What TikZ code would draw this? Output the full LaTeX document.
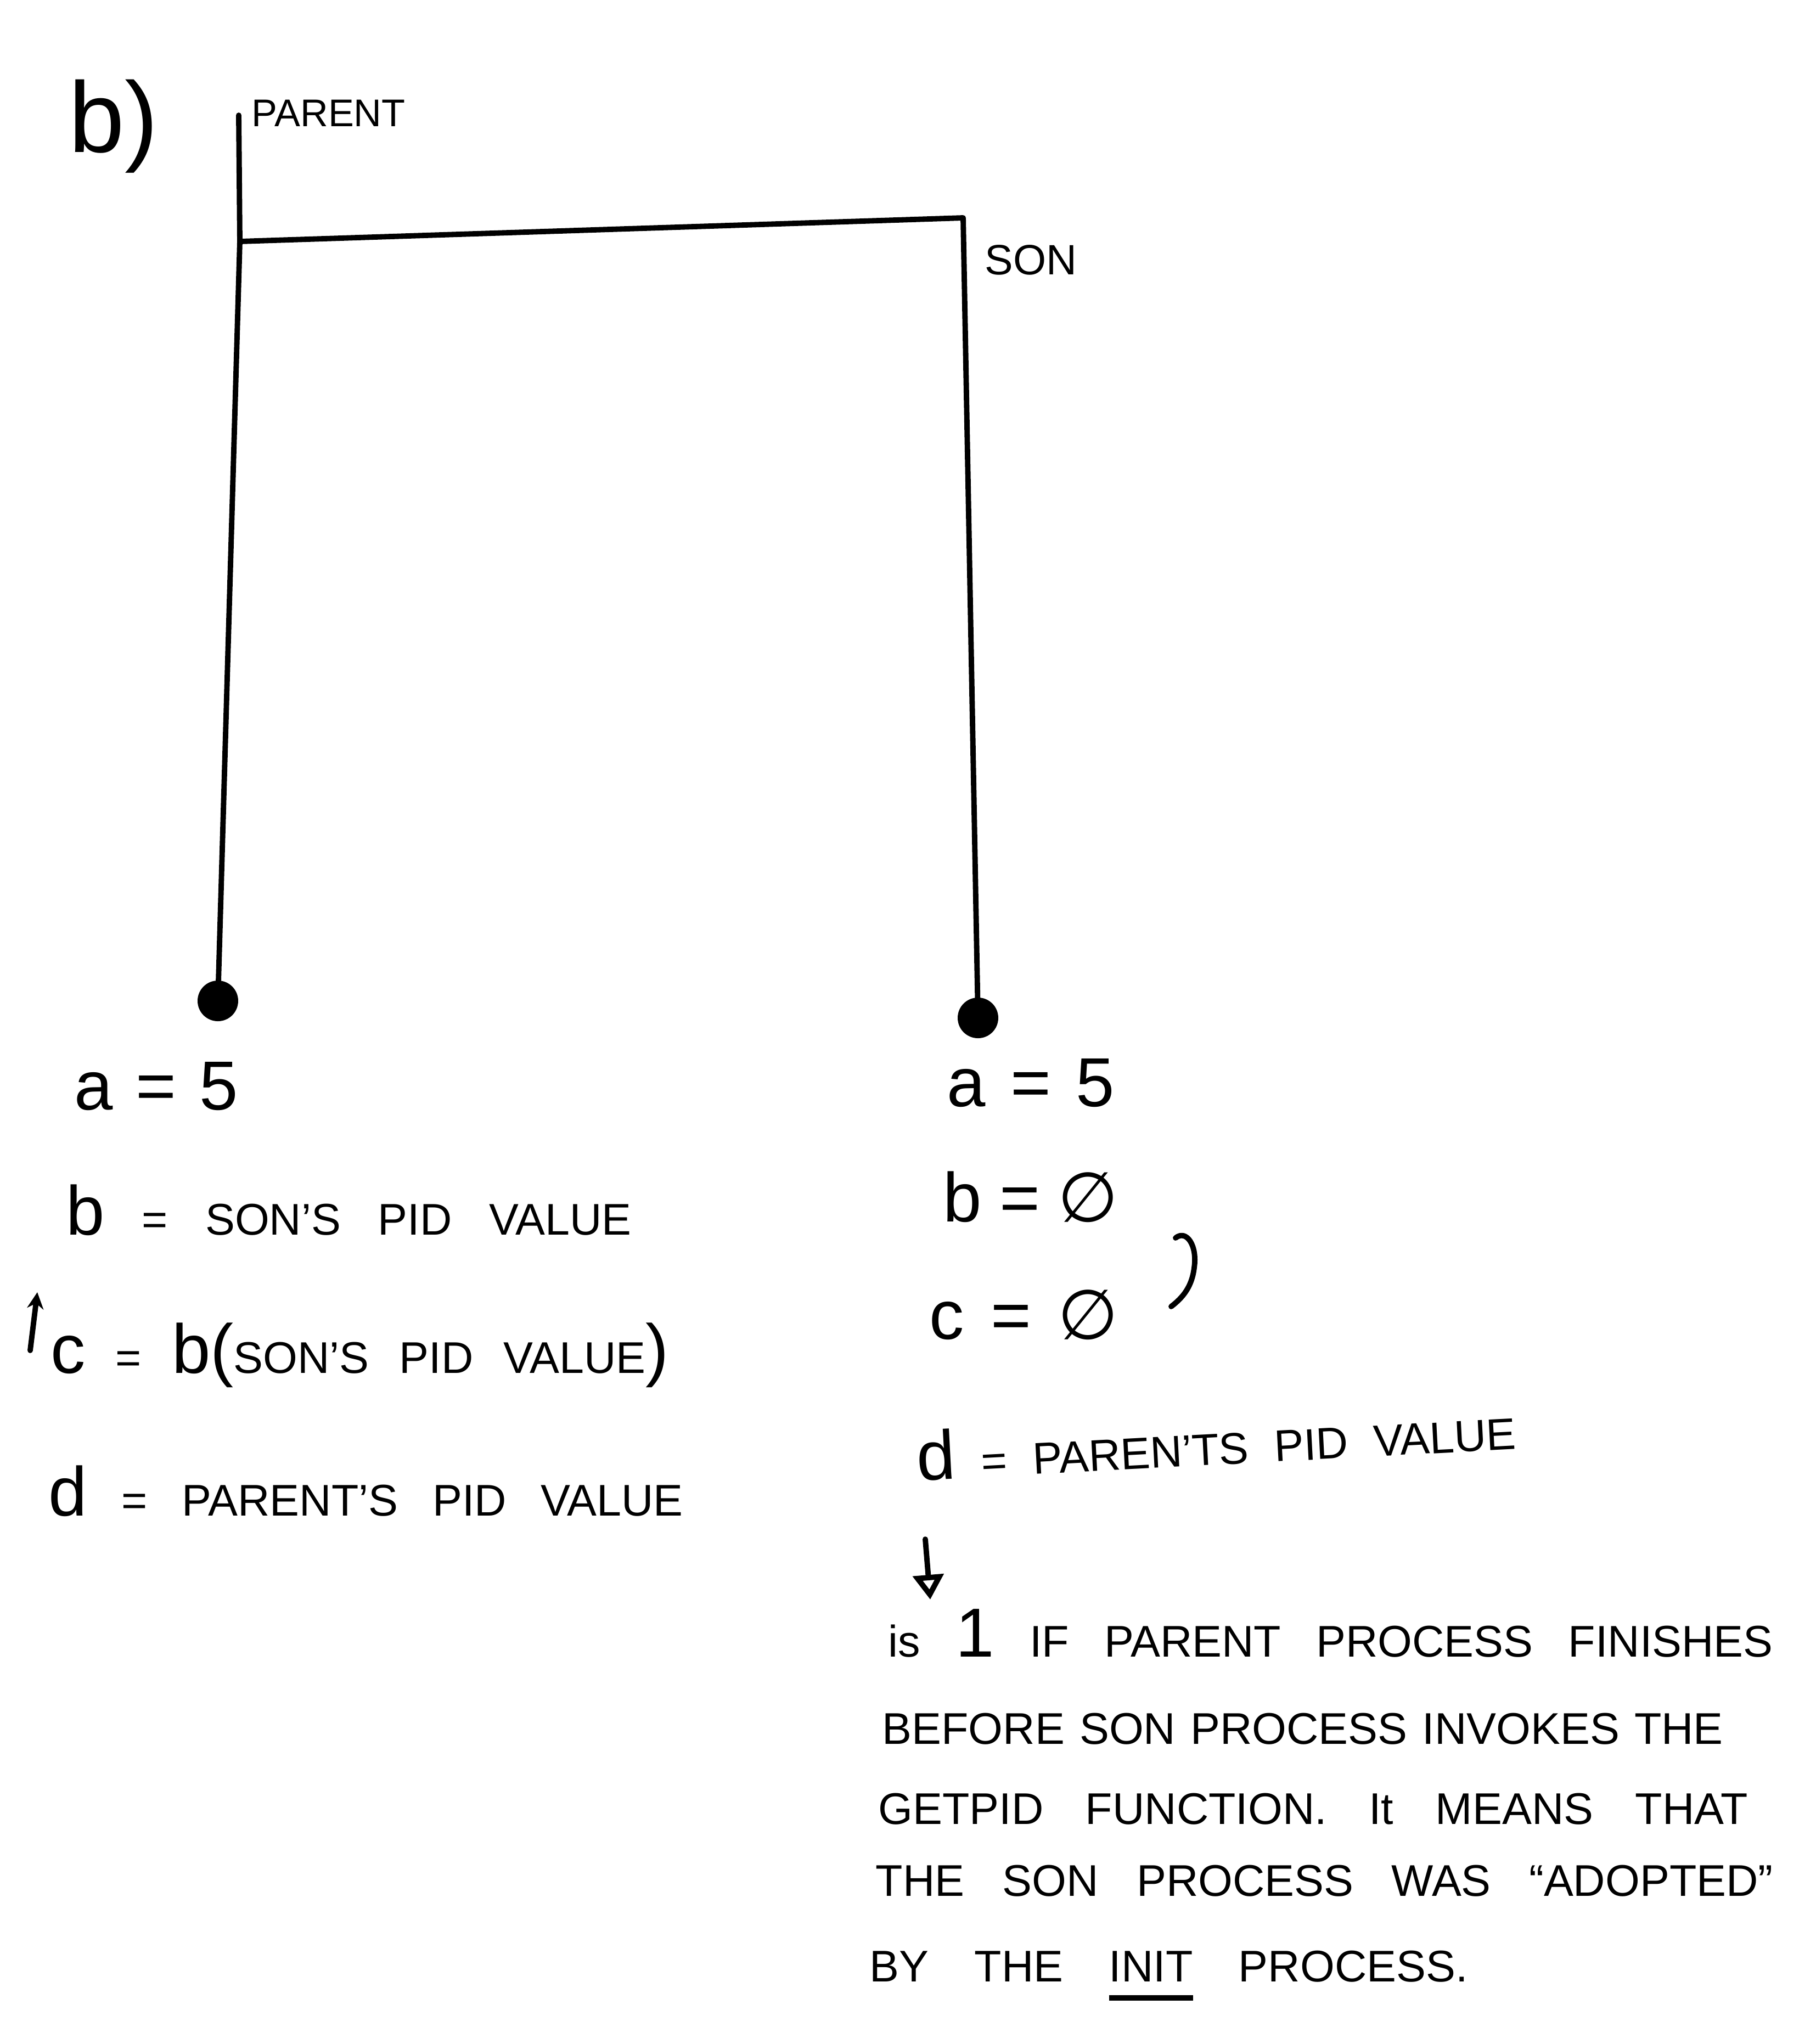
\documentclass[tikz,border=0pt]{standalone}
\usepackage{fontspec}
\setmainfont{Liberation Sans}
\newfontfamily\symfont{DejaVu Sans}
\usetikzlibrary{positioning, arrows.meta, calc}

\tikzset{
	hand/.style={line width=2.8pt, line cap=round, line join=round},
	proc/.style={circle, fill=black, inner sep=0pt, minimum size=0.74cm},
	lbl/.style={anchor=base west, inner sep=0pt, font=\fontsize{20}{20}\selectfont},
	eq/.style={anchor=base west, inner sep=0pt, font=\fontsize{23}{23}\selectfont}
}
\newcommand{\vn}[1]{{\fontsize{36}{36}\selectfont #1}}
\newcommand{\fitline}[2]{\makebox[#1][s]{#2}}
\newcommand{\initmark}[1]{\setbox0\hbox{#1}\rlap{\rule[-10pt]{\wd0}{3pt}}\box0\relax}

\begin{document}
\begin{tikzpicture}
	\useasboundingbox (0,0) rectangle (33.09,-37.25);
	
	\node [anchor=base west, inner sep=0pt, font=\fontsize{52}{52}\selectfont] (part) at (1.25,-2.77) {b)};
	
	% parent and son
	\coordinate (ptop) at (4.35,-2.10);
	\coordinate (pfork) at (4.37,-4.40);
	\node [proc] (pdot) at (3.97,-18.24) {};
	\coordinate (sfork) at (17.55,-3.97);
	\node [proc] (sdot) at (17.82,-18.55) {};
	\draw [hand] (ptop) -- (pfork) -- (pdot.center);
	\draw [hand] (pfork) -- (sfork) -- (sdot.center);
	
	\node [lbl] (parent) at (4.58,-2.30) {PARENT};
	\node [lbl, font=\fontsize{22}{22}\selectfont] (son) at (17.94,-5.00) {SON};
	
	% parent values
	\node [eq] (pa) at (1.35,-20.22) {\fitline{2.98cm}{\vn{a = 5}}};
	\node [eq] (pb) at (1.20,-22.50) {\fitline{10.30cm}{\vn{b} = SON'S PID VALUE}};
	\node [eq] (pc) at (0.92,-25.02) {\fitline{11.26cm}{\vn{c} = \vn{b(}SON'S PID VALUE\vn{)}}};
	\node [eq] (pd) at (0.88,-27.62) {\fitline{11.56cm}{\vn{d} = PARENT'S PID VALUE}};
	\coordinate (cmark0) at (0.55,-24.61);
	\coordinate (cmark1) at (0.68,-23.55);
	\draw [hand, -{Stealth[length=0.3cm, width=0.3cm]}] (cmark0) -- (cmark1);
	
	% son values
	\node [eq] (sa) at (17.25,-20.16) {\fitline{3.05cm}{\vn{a = 5}}};
	\node [eq] (sb) at (17.18,-22.26) {\fitline{3.19cm}{\vn{b = {\symfont ∅}}}};
	\node [eq] (sc) at (16.93,-24.40) {\fitline{3.44cm}{\vn{c = {\symfont ∅}}}};
	\draw [hand] (21.42,-22.56) .. controls (21.62,-22.40) and (21.82,-22.70) .. (21.76,-23.10) .. controls (21.72,-23.45) and (21.55,-23.65) .. (21.34,-23.81);
	\node [eq, rotate=3] (sd) at (16.72,-26.98) {\fitline{10.92cm}{\vn{d} = PAREN'TS PID VALUE}};
	
	\coordinate (atop) at (16.86,-28.05);
	\coordinate (abot) at (16.95,-29.15);
	\draw [hand, -{Triangle[open, length=0.45cm, width=0.55cm]}] (atop) -- (abot);
	
	\foreach \x/\y/\w/\t [count=\i] in {
		16.18/-30.19/16.12/{is \vn{1} IF PARENT PROCESS FINISHES},
		16.07/-31.78/15.32/{BEFORE SON PROCESS INVOKES THE},
		16.00/-33.24/15.84/{GETPID FUNCTION. It MEANS THAT},
		15.95/-34.55/16.35/{THE SON PROCESS WAS ``ADOPTED''},
		15.84/-36.11/10.90/{BY THE \initmark{INIT} PROCESS.}}
	\node [eq] (l\i) at (\x,\y) {\fitline{\w cm}{\t}};
	
\end{tikzpicture}
\end{document}
